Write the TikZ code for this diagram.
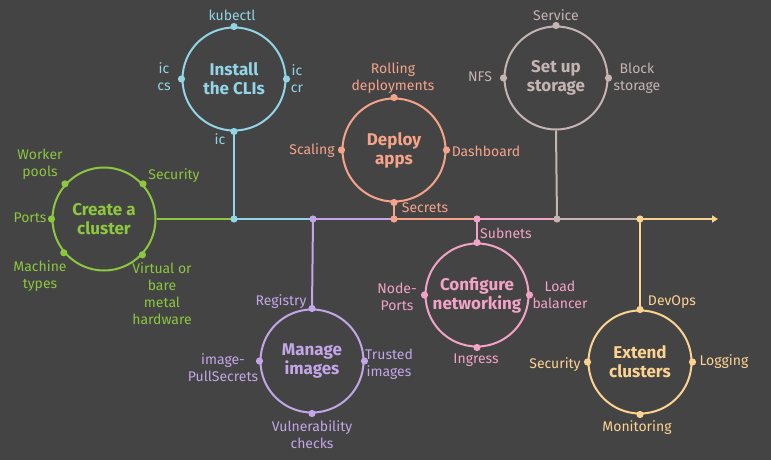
\documentclass[tikz,border=0pt]{standalone}
\usepackage{fontspec}
\setmainfont{Fira Sans}
\usetikzlibrary{arrows.meta}
\definecolor{col_444444}{RGB}{68,68,68}
\definecolor{col_8dc63f}{RGB}{141,198,63}
\definecolor{col_92d5e6}{RGB}{146,213,230}
\definecolor{col_f5a48a}{RGB}{245,164,138}
\definecolor{col_c4b5b3}{RGB}{196,181,179}
\definecolor{col_c3a6e8}{RGB}{195,166,232}
\definecolor{col_f3a3c6}{RGB}{243,163,198}
\definecolor{col_fdd391}{RGB}{253,211,145}
\newcommand{\tikzdrawdot}[2]{%
\fill[#1] (#2) circle[radius=3.6];
}

\begin{document}
\begin{tikzpicture}[x=1pt,y=-1pt,
  hub/.style={circle,draw=#1,line width=2pt,minimum size=103pt,inner sep=0pt,text=#1,align=center,font=\fontsize{17}{19}\selectfont\bfseries},
  lbl/.style={text=#1,align=center,inner sep=0pt,font=\fontsize{14}{17}\selectfont},
  trunk/.style={draw=#1,line width=2pt}]
\fill[col_444444] (0,0) rectangle (771,460);     %% background
\node[hub=col_8dc63f] (cluster) at (104,219) {Create a\\cluster};
\node[hub=col_92d5e6] (cli) at (234,79) {Install\\the CLIs};
\node[hub=col_f5a48a] (deploy) at (394,150) {Deploy\\apps};
\node[hub=col_c4b5b3] (storage) at (556,78) {Set up\\storage};
\node[hub=col_c3a6e8] (images) at (312,361) {Manage\\images};
\node[hub=col_f3a3c6] (network) at (477,295) {Configure\\networking};
\node[hub=col_fdd391] (extend) at (640,362) {Extend\\clusters};
\coordinate (j1) at (234,219);
\coordinate (j2) at (313,219);
\coordinate (j3) at (394,219);
\coordinate (j4) at (477,219);
\coordinate (j5) at (557,219);
\coordinate (j6) at (640,219);
\coordinate (jend) at (718,219);
\draw[trunk=col_8dc63f] (cluster.east) -- (j1);     %% main line
\draw[trunk=col_92d5e6] (j1) -- (j2);
\draw[trunk=col_c3a6e8] (j2) -- (j3);
\draw[trunk=col_f5a48a] (j3) -- (j4);
\draw[trunk=col_f3a3c6] (j4) -- (j5);
\draw[trunk=col_c4b5b3] (j5) -- (j6);
\draw[trunk=col_fdd391,-{Triangle[length=6pt,width=7pt]}] (j6) -- (jend);
\draw[trunk=col_92d5e6] (cli.south) -- (j1);     %% stems
\draw[trunk=col_f5a48a] (deploy.south) -- (j3);
\draw[trunk=col_c4b5b3] (storage.south) -- (j5);
\draw[trunk=col_c3a6e8] (images.north) -- (j2);
\draw[trunk=col_f3a3c6] (network.north) -- (j4);
\draw[trunk=col_fdd391] (extend.north) -- (j6);
\tikzdrawdot{col_8dc63f}{cluster.138}
\tikzdrawdot{col_8dc63f}{cluster.42}
\tikzdrawdot{col_8dc63f}{cluster.180}
\tikzdrawdot{col_8dc63f}{cluster.220}
\tikzdrawdot{col_8dc63f}{cluster.317}
\tikzdrawdot{col_92d5e6}{cli.north}
\tikzdrawdot{col_92d5e6}{cli.west}
\tikzdrawdot{col_92d5e6}{cli.east}
\tikzdrawdot{col_92d5e6}{cli.south}
\tikzdrawdot{col_92d5e6}{j1}
\tikzdrawdot{col_f5a48a}{deploy.north}
\tikzdrawdot{col_f5a48a}{deploy.west}
\tikzdrawdot{col_f5a48a}{deploy.east}
\tikzdrawdot{col_f5a48a}{deploy.south}
\tikzdrawdot{col_f5a48a}{j3}
\tikzdrawdot{col_c4b5b3}{storage.north}
\tikzdrawdot{col_c4b5b3}{storage.west}
\tikzdrawdot{col_c4b5b3}{storage.east}
\tikzdrawdot{col_c4b5b3}{j5}
\tikzdrawdot{col_c3a6e8}{images.north}
\tikzdrawdot{col_c3a6e8}{images.west}
\tikzdrawdot{col_c3a6e8}{images.east}
\tikzdrawdot{col_c3a6e8}{images.south}
\tikzdrawdot{col_c3a6e8}{j2}
\tikzdrawdot{col_f3a3c6}{network.north}
\tikzdrawdot{col_f3a3c6}{network.west}
\tikzdrawdot{col_f3a3c6}{network.east}
\tikzdrawdot{col_f3a3c6}{network.south}
\tikzdrawdot{col_f3a3c6}{j4}
\tikzdrawdot{col_fdd391}{extend.north}
\tikzdrawdot{col_fdd391}{extend.west}
\tikzdrawdot{col_fdd391}{extend.east}
\tikzdrawdot{col_fdd391}{extend.south}
\tikzdrawdot{col_fdd391}{j6}
\node[lbl=col_8dc63f] (wpools) at (40,164) {Worker\\pools};     %% labels
\node[lbl=col_8dc63f] (csec) at (174,176) {Security};
\node[lbl=col_8dc63f] (ports) at (30,218) {Ports};
\node[lbl=col_8dc63f] (mtypes) at (40,276) {Machine\\types};
\node[lbl=col_8dc63f] (bare) at (162,294) {Virtual or\\bare\\metal\\hardware};
\node[lbl=col_92d5e6] (kubectl) at (232,15) {kubectl};
\node[lbl=col_92d5e6] (iccs) at (164,77) {ic\\cs};
\node[lbl=col_92d5e6] (iccr) at (297,79) {ic\\cr};
\node[lbl=col_92d5e6] (ic) at (220,139) {ic};
\node[lbl=col_f5a48a] (rolling) at (393,78) {Rolling\\deployments};
\node[lbl=col_f5a48a] (scaling) at (312,151) {Scaling};
\node[lbl=col_f5a48a] (dash) at (486,151) {Dashboard};
\node[lbl=col_f5a48a] (secrets) at (425,208) {Secrets};
\node[lbl=col_c4b5b3] (service) at (556,15) {Service};
\node[lbl=col_c4b5b3] (nfs) at (480,77) {NFS};
\node[lbl=col_c4b5b3] (block) at (637,78) {Block\\storage};
\node[lbl=col_c3a6e8] (registry) at (281,302) {Registry};
\node[lbl=col_c3a6e8] (pulls) at (223,368) {image-\\PullSecrets};
\node[lbl=col_c3a6e8] (trusted) at (389,364) {Trusted\\images};
\node[lbl=col_c3a6e8] (vuln) at (312,435) {Vulnerability\\checks};
\node[lbl=col_f3a3c6] (subnets) at (506,233) {Subnets};
\node[lbl=col_f3a3c6] (nodeports) at (397,297) {Node-\\Ports};
\node[lbl=col_f3a3c6] (lb) at (560,295) {Load\\balancer};
\node[lbl=col_f3a3c6] (ingress) at (476,360) {Ingress};
\node[lbl=col_fdd391] (devops) at (672,302) {DevOps};
\node[lbl=col_fdd391] (esec) at (555,365) {Security};
\node[lbl=col_fdd391] (logging) at (724,362) {Logging};
\node[lbl=col_fdd391] (monitor) at (637,428) {Monitoring};
\end{tikzpicture}
\end{document}
